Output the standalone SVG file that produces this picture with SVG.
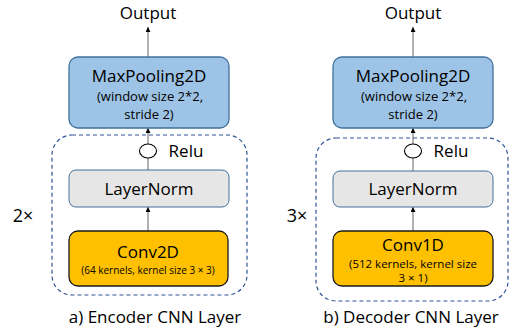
<svg xmlns="http://www.w3.org/2000/svg" width="512" height="331" viewBox="0 0 512 331">
<defs>
<marker id="ah" viewBox="0 0 10 10" refX="10" refY="5" markerWidth="5" markerHeight="5" orient="auto" markerUnits="userSpaceOnUse">
<path d="M0,0 L10,5 L0,10 Z" fill="#000"/>
</marker>
<style>
text{font-family:"Open Sans","Noto Sans",sans-serif;fill:#000;text-anchor:middle}
.t{font-size:17px}
.cap{font-size:17px}
.s{font-size:13px}
.s2{font-size:11.5px}
.xs{font-size:10px}
.mp{fill:#9DC3E6;stroke:#41719C;stroke-width:1.3}
.ln{fill:#E7E6E6;stroke:#41719C;stroke-width:1}
.cv{fill:#FFC000;stroke:#1a1a1a;stroke-width:1.3}
.dash{fill:none;stroke:#2F5597;stroke-width:1.2;stroke-dasharray:4 3}
.c{stroke:#7F7F7F;stroke-width:1.2;fill:none}
.relu{fill:#fff;stroke:#000;stroke-width:1.1}
</style>
</defs>
<g id="connectors">
<line class="c" x1="148" y1="57" x2="148" y2="27" marker-end="url(#ah)"/>
<line class="c" x1="148" y1="144" x2="148" y2="128" marker-end="url(#ah)"/>
<line class="c" x1="148" y1="170" x2="148" y2="158"/>
<line class="c" x1="148" y1="231" x2="148" y2="207" marker-end="url(#ah)"/>
<line class="c" x1="413" y1="57" x2="413" y2="27" marker-end="url(#ah)"/>
<line class="c" x1="413" y1="144" x2="413" y2="128" marker-end="url(#ah)"/>
<line class="c" x1="413" y1="171" x2="413" y2="158"/>
<line class="c" x1="413" y1="231" x2="413" y2="207" marker-end="url(#ah)"/>
</g>
<g id="encoder-repeat"><rect class="dash" x="52" y="135" width="195" height="160" rx="20"/></g>
<g id="decoder-repeat"><rect class="dash" x="316" y="138" width="192" height="163" rx="20"/></g>
<g id="enc-output"><text class="t" x="148" y="19">Output</text></g>
<g id="enc-maxpool">
<rect class="mp" x="69" y="57" width="160" height="71" rx="9"/>
<text class="t" x="149" y="82">MaxPooling2D</text>
<text class="s" x="150" y="101">(window size 2*2,</text>
<text class="s" x="149" y="119">stride 2)</text>
</g>
<g id="enc-relu">
<ellipse class="relu" cx="148" cy="151" rx="8.5" ry="7"/>
<text class="t" x="186" y="157">Relu</text>
</g>
<g id="enc-layernorm">
<rect class="ln" x="69" y="170" width="160" height="37" rx="7"/>
<text class="t" x="149" y="195">LayerNorm</text>
</g>
<g id="enc-conv">
<rect class="cv" x="69" y="231" width="159" height="55" rx="9"/>
<text class="t" x="148" y="258">Conv2D</text>
<text class="xs" x="148" y="274">(64 kernels, kernel size 3 × 3)</text>
</g>
<g id="enc-times"><text class="t" x="23" y="222" style="font-size:18px">2×</text></g>
<g id="enc-caption"><text class="cap" x="155" y="323">a) Encoder CNN Layer</text></g>
<g id="dec-output"><text class="t" x="413" y="19">Output</text></g>
<g id="dec-maxpool">
<rect class="mp" x="333" y="57" width="160" height="71" rx="9"/>
<text class="t" x="413" y="82">MaxPooling2D</text>
<text class="s" x="414" y="101">(window size 2*2,</text>
<text class="s" x="413" y="119">stride 2)</text>
</g>
<g id="dec-relu">
<ellipse class="relu" cx="413" cy="151" rx="8.5" ry="7"/>
<text class="t" x="451" y="157">Relu</text>
</g>
<g id="dec-layernorm">
<rect class="ln" x="333" y="171" width="160" height="36" rx="7"/>
<text class="t" x="413" y="195">LayerNorm</text>
</g>
<g id="dec-conv">
<rect class="cv" x="333" y="231" width="160" height="55" rx="9"/>
<text class="t" x="413" y="251">Conv1D</text>
<text class="s2" x="413" y="268">(512 kernels, kernel size</text>
<text class="s2" x="413" y="282">3 × 1)</text>
</g>
<g id="dec-times"><text class="t" x="297" y="222" style="font-size:18px">3×</text></g>
<g id="dec-caption"><text class="cap" x="411" y="323">b) Decoder CNN Layer</text></g>
</svg>
